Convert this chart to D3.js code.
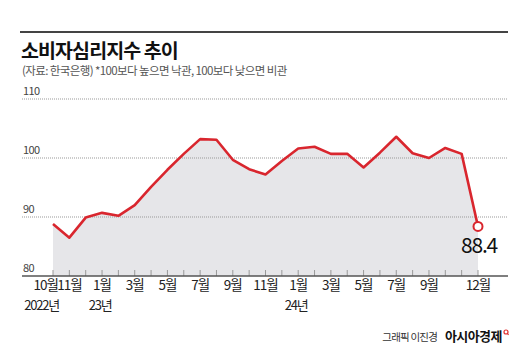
<!DOCTYPE html>
<html>
<head>
<meta charset="utf-8">
<title>소비자심리지수 추이</title>
<style>
body {
  margin: 0;
  background: white;
}
svg text {
  font-family: "Noto Sans CJK KR", "Noto Sans", sans-serif;
}
</style>
<script src="https://d3js.org/d3.v7.min.js"></script>
</head>
<body>
<svg id="chart" width="530" height="361"></svg>
<script>
// monthly consumer sentiment index, Oct 2022 .. Dec 2024
const months = ['2022-10','2022-11','2022-12','2023-01','2023-02','2023-03','2023-04','2023-05','2023-06',
  '2023-07','2023-08','2023-09','2023-10','2023-11','2023-12','2024-01','2024-02','2024-03','2024-04',
  '2024-05','2024-06','2024-07','2024-08','2024-09','2024-10','2024-11','2024-12'];
const values = [88.8, 86.5, 89.9, 90.7, 90.2, 92.0, 95.1, 98.0, 100.7, 103.2, 103.1, 99.7, 98.1, 97.2,
  99.5, 101.6, 101.9, 100.7, 100.7, 98.4, 100.9, 103.6, 100.8, 100.0, 101.7, 100.7, 88.4];

const yTicks = [80, 90, 100, 110];
const monthLabelIdx = [0, 1, 3, 5, 7, 9, 11, 13, 15, 17, 19, 21, 23, 26];
const monthLabels = ['10월','11월','1월','3월','5월','7월','9월','11월','1월','3월','5월','7월','9월','12월'];
const yearLabelIdx = [0, 3, 15];
const yearLabels = ['2022년', '23년', '24년'];

const svg = d3.select('#chart');
const left = 22, right = 508;

const x = d3.scaleLinear().domain([0, months.length - 1]).range([53, 478]);
const y = d3.scaleLinear().domain([80, 110]).range([276, 99]);

// header
svg.append('line')
  .attr('x1', 20).attr('x2', right).attr('y1', 32).attr('y2', 32)
  .attr('stroke', '#444').attr('stroke-width', 2);

svg.append('text')
  .attr('x', 21).attr('y', 58)
  .attr('font-size', 19.5).attr('font-weight', 'bold')
  .attr('letter-spacing', -0.9)
  .attr('fill', '#111')
  .text('소비자심리지수 추이');

svg.append('text')
  .attr('x', 22).attr('y', 75)
  .attr('font-size', 11.5).attr('letter-spacing', -0.6)
  .attr('fill', '#555')
  .text('(자료: 한국은행) *100보다 높으면 낙관, 100보다 낮으면 비관');

// area under the line
const area = d3.area()
  .x((d, i) => x(i))
  .y0(y(80))
  .y1(d => y(d));

svg.append('path')
  .datum(values)
  .attr('d', area)
  .attr('fill', '#e6e6e9');

// grid lines
svg.append('g')
  .selectAll('line')
  .data(yTicks.slice(1))
  .enter().append('line')
  .attr('x1', left).attr('x2', right)
  .attr('y1', d => y(d)).attr('y2', d => y(d))
  .attr('stroke', '#999').attr('stroke-width', 1)
  .attr('stroke-dasharray', '1,1');

svg.append('g')
  .selectAll('text')
  .data(yTicks)
  .enter().append('text')
  .attr('x', 23)
  .attr('y', d => y(d) - 4)
  .attr('font-size', 11).attr('letter-spacing', -0.6)
  .attr('fill', '#444')
  .text(d => d);

// month ticks and axis
svg.append('g')
  .selectAll('line')
  .data(months)
  .enter().append('line')
  .attr('x1', (d, i) => x(i)).attr('x2', (d, i) => x(i))
  .attr('y1', y(80) - 6).attr('y2', y(80))
  .attr('stroke', '#999').attr('stroke-width', 1);

svg.append('line')
  .attr('x1', left).attr('x2', right)
  .attr('y1', y(80)).attr('y2', y(80))
  .attr('stroke', '#555').attr('stroke-width', 1.5);

svg.append('g')
  .selectAll('text')
  .data(monthLabelIdx)
  .enter().append('text')
  .attr('x', (d, i) => i === 0 ? x(d) + 5 : x(d))
  .attr('y', 290)
  .attr('text-anchor', (d, i) => i === 0 ? 'end' : 'middle')
  .attr('font-size', 13.5).attr('letter-spacing', -1)
  .attr('fill', '#222')
  .text((d, i) => monthLabels[i]);

svg.append('g')
  .selectAll('text')
  .data(yearLabelIdx)
  .enter().append('text')
  .attr('x', (d, i) => i === 0 ? x(d) + 6 : x(d) - 2)
  .attr('y', 310)
  .attr('text-anchor', (d, i) => i === 0 ? 'end' : 'middle')
  .attr('font-size', 13).attr('letter-spacing', -1.2)
  .attr('fill', '#222')
  .text((d, i) => yearLabels[i]);

// line
const line = d3.line()
  .x((d, i) => x(i))
  .y(d => y(d));

svg.append('path')
  .datum(values)
  .attr('d', line)
  .attr('fill', 'none')
  .attr('stroke', '#d9262e')
  .attr('stroke-width', 2.6)
  .attr('stroke-linejoin', 'round');

// last point
const last = values.length - 1;
svg.append('circle')
  .attr('cx', x(last)).attr('cy', y(values[last]))
  .attr('r', 4.5)
  .attr('fill', 'white')
  .attr('stroke', '#d9262e').attr('stroke-width', 2);

svg.append('text')
  .attr('x', x(last) + 1).attr('y', 253)
  .attr('text-anchor', 'middle')
  .attr('font-size', 21).attr('letter-spacing', -1.2)
  .attr('fill', '#111')
  .text(values[last]);

// footer
svg.append('text')
  .attr('x', 437).attr('y', 341)
  .attr('text-anchor', 'end')
  .attr('font-size', 10.5).attr('letter-spacing', -0.8)
  .attr('fill', '#333')
  .text('그래픽 이진경');

svg.append('text')
  .attr('x', 445).attr('y', 341)
  .attr('font-size', 13).attr('font-weight', 'bold').attr('letter-spacing', -0.6)
  .attr('fill', '#111')
  .text('아시아경제');

svg.append('circle')
  .attr('cx', 506).attr('cy', 332).attr('r', 2)
  .attr('fill', 'none').attr('stroke', '#e03030').attr('stroke-width', 1.2);
svg.append('line')
  .attr('x1', 507.5).attr('x2', 508.5).attr('y1', 333.5).attr('y2', 335)
  .attr('stroke', '#e03030').attr('stroke-width', 1.2);
</script>
</body>
</html>
